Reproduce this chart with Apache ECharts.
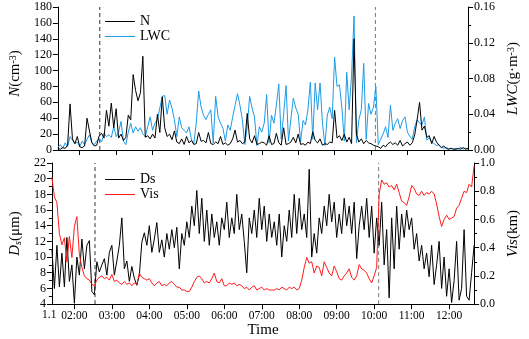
<!DOCTYPE html>
<html>
<head>
<meta charset="utf-8">
<script src="https://cdn.jsdelivr.net/npm/echarts@6.0.0/dist/echarts.min.js"></script>
<style>
  html, body { margin: 0; padding: 0; background: #fff; }
  #chart { width: 529px; height: 339px; }
</style>
</head>
<body>
<div id="chart"></div>
<script>
// sampling grid: one reading every 4 minutes from 01:24 to 12:40
const startHour = 1.4;
const stepMinutes = 4;
const hourTicks = [2, 3, 4, 5, 6, 7, 8, 9, 10, 11, 12];
const dashHours = [2.55, 10.12];
const nRange = [0, 180];
const lwcRange = [0, 0.16];
const dsRange = [4, 22];
const visRange = [0, 1.0];

// number concentration N (cm^-3)
const nVals = [
  2, 1, 3, 2, 6, 58, 14, 8, 17, 4,
  3, 5, 40, 24, 9, 5, 6, 18, 21, 15,
  50, 30, 59, 28, 52, 15, 20, 12, 16, 44,
  38, 95, 75, 62, 72, 118, 16, 18, 14, 20,
  15, 45, 22, 67, 28, 17, 20, 13, 24, 10,
  8, 14, 7, 17, 9, 12, 7, 8, 22, 11,
  12, 9, 22, 8, 7, 10, 8, 17, 7, 9,
  6, 8, 14, 25, 10, 12, 8, 10, 46, 14,
  9, 18, 7, 8, 10, 9, 6, 18, 7, 8,
  21, 9, 6, 28, 7, 8, 10, 16, 9, 20,
  7, 8, 6, 10, 8, 23, 12, 9, 14, 6,
  8, 7, 10, 9, 50, 15, 18, 12, 20, 10,
  16, 8, 140, 20, 10, 14, 8, 12, 9, 8,
  6, 5, 4, 2, 6, 4, 8, 10, 7, 9,
  6, 12, 5, 8, 10, 6, 9, 19, 38, 60,
  25, 30, 16, 18, 8, 17, 10, 6, 3, 5,
  2, 1, 2, 1, 1, 2, 1, 3, 1, 2
];

// liquid water content (g m^-3)
const lwcVals = [
  0.003, 0.006, 0.002, 0.008, 0.004, 0.015, 0.011, 0.007, 0.009, 0.004,
  0.010, 0.006, 0.012, 0.017, 0.008, 0.006, 0.010, 0.013, 0.009, 0.019,
  0.015, 0.017, 0.014, 0.026, 0.015, 0.020, 0.032, 0.010, 0.006, 0.020,
  0.030, 0.019, 0.026, 0.021, 0.025, 0.018, 0.015, 0.026, 0.037, 0.022,
  0.030, 0.034, 0.047, 0.060, 0.061, 0.040, 0.056, 0.047, 0.034, 0.015,
  0.037, 0.025, 0.022, 0.019, 0.026, 0.012, 0.007, 0.030, 0.066, 0.048,
  0.039, 0.034, 0.040, 0.045, 0.008, 0.060, 0.037, 0.030, 0.024, 0.010,
  0.028, 0.022, 0.037, 0.050, 0.063, 0.050, 0.034, 0.006, 0.026, 0.060,
  0.047, 0.037, 0.005, 0.026, 0.020, 0.030, 0.062, 0.008, 0.039, 0.030,
  0.050, 0.074, 0.012, 0.040, 0.072, 0.010, 0.035, 0.058, 0.047, 0.040,
  0.009, 0.033, 0.028, 0.045, 0.076, 0.012, 0.075, 0.045, 0.075, 0.030,
  0.005, 0.039, 0.048, 0.035, 0.104, 0.071, 0.073, 0.047, 0.010, 0.087,
  0.045, 0.084, 0.150, 0.008, 0.034, 0.045, 0.097, 0.012, 0.052, 0.040,
  0.048, 0.071, 0.006, 0.012, 0.018, 0.026, 0.014, 0.050, 0.022, 0.030,
  0.035, 0.024, 0.033, 0.037, 0.020, 0.015, 0.012, 0.026, 0.034, 0.030,
  0.028, 0.037, 0.011, 0.014, 0.009, 0.007, 0.005, 0.006, 0.003, 0.002,
  0.003, 0.001, 0.002, 0.001, 0.002, 0.001, 0.003, 0.001, 0.002, 0.001
];

// droplet diameter Ds (um)
const dsVals = [
  11, 6, 11.5, 6.2, 10.5, 6.2, 12.5, 6.9, 9, 4.1,
  10, 7.7, 12.3, 8.5, 11.5, 12.1, 5.6, 5.2, 9.4, 8.1,
  9, 9.8, 7.7, 10.6, 11.5, 7.7, 9.5, 11.5, 15, 8.5,
  9.5, 6.9, 8.8, 7.3, 6.4, 7.7, 11.9, 13.1, 11.5, 14,
  10.6, 12.3, 14.4, 10.6, 12.2, 10, 13, 11, 13.5, 11.2,
  13.8, 8.5, 13, 11.5, 14.5, 12.5, 16.5, 14, 18.5, 13,
  17.5, 12, 16, 11.5, 15.5, 12.5, 14.5, 11.5, 15, 13.5,
  17, 12.5, 15, 13, 18, 13.5, 15.5, 12, 8, 15,
  13, 16, 12.5, 17.5, 13.5, 16.5, 12, 15.5, 12.5, 14.5,
  11.5, 15.5, 10, 14, 12, 16, 12.5, 18, 13, 17.5,
  13.5, 15.5, 12.5, 21.2, 10, 13, 10.5, 15, 13, 16.5,
  14, 18, 14.5, 17, 12.5, 15.5, 13, 17.5, 14, 16.5,
  13, 17, 9.8, 14, 16.5, 13.5, 17.5, 12.5, 16.5, 10.5,
  15, 11.5, 17, 9, 13.5, 4.8, 15, 8.5, 16.5, 11,
  15.5, 12.5, 16, 13.5, 15, 11, 13, 9.5, 11.5, 8.5,
  10.5, 7.5, 11.5, 6.5, 9, 12, 6, 10, 5, 8.5,
  4.2, 7, 12, 4.5, 6, 13.5, 5, 4.5, 8, 11.5
];

// visibility (km)
const visVals = [
  0.9, 0.76, 0.72, 0.5, 0.42, 0.47, 0.3, 0.48, 0.33, 0.55,
  0.62, 0.35, 0.26, 0.2, 0.18, 0.17, 0.14, 0.13, 0.17, 0.19,
  0.2, 0.18, 0.19, 0.17, 0.21, 0.16, 0.17, 0.15, 0.14, 0.16,
  0.14, 0.15, 0.13, 0.15, 0.14, 0.22, 0.19, 0.18, 0.17, 0.18,
  0.15, 0.13, 0.15, 0.16, 0.13, 0.14, 0.13, 0.15, 0.16, 0.14,
  0.12, 0.12, 0.1, 0.1, 0.09, 0.09, 0.12, 0.16, 0.19, 0.2,
  0.18, 0.15, 0.16, 0.15, 0.18, 0.22, 0.16, 0.15, 0.18, 0.13,
  0.13, 0.15, 0.14, 0.15, 0.13, 0.14, 0.13, 0.11, 0.12, 0.1,
  0.12, 0.13, 0.1, 0.11, 0.12, 0.1, 0.11, 0.1, 0.1, 0.1,
  0.11, 0.1, 0.12, 0.11, 0.1, 0.12, 0.11, 0.12, 0.1, 0.11,
  0.17, 0.26, 0.33, 0.29, 0.3, 0.22, 0.27, 0.26, 0.2, 0.3,
  0.26, 0.22, 0.2, 0.27, 0.23, 0.18, 0.17, 0.2, 0.22, 0.25,
  0.19, 0.17, 0.2, 0.28, 0.25, 0.24, 0.22, 0.18, 0.15, 0.2,
  0.26, 0.78, 0.88, 0.85, 0.86, 0.83, 0.84, 0.81, 0.85, 0.79,
  0.73, 0.72, 0.7, 0.76, 0.84, 0.82, 0.78, 0.77, 0.8, 0.77,
  0.79, 0.78, 0.8, 0.78, 0.71, 0.62, 0.55, 0.6, 0.63, 0.6,
  0.61, 0.62, 0.68, 0.7, 0.75, 0.8, 0.79, 0.85, 0.83, 0.98
];

const FONT = "Liberation Serif";
const times = nVals.map((_, i) => startHour + (i * stepMinutes) / 60);
const toPairs = (vals) => vals.map((v, i) => [times[i], v]);
const pad2 = (h) => (h < 10 ? "0" + h : "" + h) + ":00";

const chart = echarts.init(document.getElementById("chart"), null, { renderer: "canvas" });

function makeXAxis(gridIndex, showLabels) {
  return {
    type: "value",
    gridIndex,
    min: startHour,
    max: startHour + ((nVals.length - 1) * stepMinutes) / 60,
    name: showLabels ? "Time" : "",
    nameLocation: "middle",
    nameGap: 18,
    nameTextStyle: { fontFamily: FONT, fontSize: 15, color: "#000" },
    axisLine: { show: true, onZero: false, lineStyle: { color: "#000", width: 1 } },
    axisTick: { show: true, customValues: hourTicks, length: 5, inside: false, lineStyle: { color: "#000" } },
    axisLabel: {
      show: showLabels,
      customValues: hourTicks,
      formatter: (v) => pad2(Math.round(v)),
      fontFamily: FONT,
      fontSize: 11.5,
      color: "#000",
      margin: 6,
    },
    splitLine: { show: false },
  };
}

function makeYAxis(gridIndex, position, range, interval, digits, name, nameGap, minor, namePad) {
  return {
    type: "value",
    gridIndex,
    position,
    min: range[0],
    max: range[1],
    interval,
    name,
    nameLocation: "middle",
    nameRotate: 90,
    nameGap,
    nameTextStyle: {
      fontFamily: FONT,
      fontSize: 15,
      color: "#000",
      padding: namePad,
      rich: {
        i: { fontFamily: FONT, fontSize: 15, fontStyle: "italic", color: "#000" },
        t: { fontFamily: FONT, fontSize: 15, color: "#000" },
        sup: { fontFamily: FONT, fontSize: 10, color: "#000", verticalAlign: "top", lineHeight: 10 },
        sub: { fontFamily: FONT, fontSize: 10, fontStyle: "italic", color: "#000", verticalAlign: "bottom", lineHeight: 10 },
      },
    },
    axisLine: { show: true, onZero: false, lineStyle: { color: "#000", width: 1 } },
    axisTick: { show: true, length: 5, inside: false, lineStyle: { color: "#000" } },
    minorTick: { show: minor, splitNumber: 2, length: 3, lineStyle: { color: "#000" } },
    axisLabel: {
      fontFamily: FONT,
      fontSize: 12,
      color: "#000",
      margin: 6,
      formatter: (v) => v.toFixed(digits),
    },
    splitLine: { show: false },
    minorSplitLine: { show: false },
  };
}

// vertical dashed separators drawn as two-point series on each panel
function dashSeries(xAxisIndex, yAxisIndex, range) {
  const colors = ["#333", "#777"];
  return dashHours.map((h, k) => ({
    name: "cut" + xAxisIndex + k,
    type: "line",
    xAxisIndex,
    yAxisIndex,
    silent: true,
    symbol: "none",
    data: [[h, range[0]], [h, range[1]]],
    lineStyle: { color: colors[k], width: 1, type: [4, 3] },
    z: 1,
  }));
}

const legendBase = {
  orient: "vertical",
  left: 100,
  icon: "rect",
  itemWidth: 30,
  itemHeight: 1,
  itemGap: 0,
  textStyle: { fontFamily: FONT, fontSize: 14, lineHeight: 15, color: "#000" },
};

chart.setOption({
  animation: false,
  backgroundColor: "#fff",
  grid: [
    { left: 45, right: 46, top: 7, height: 143 },
    { left: 45, right: 46, top: 163, height: 143 },
  ],
  legend: [
    Object.assign({}, legendBase, { top: 9, data: ["N", "LWC"] }),
    Object.assign({}, legendBase, { top: 167, data: ["Ds", "Vis"] }),
  ],
  xAxis: [makeXAxis(0, false), makeXAxis(1, true)],
  yAxis: [
    makeYAxis(0, "left", nRange, 20, 0, "{i|N}{t|(cm}{sup|-3}{t|)}", 14, false, [0, 0, 0, 10]),
    makeYAxis(0, "right", lwcRange, 0.04, 2, "{i|LWC}{t|(g·m}{sup|-3}{t|)}", 30, true, 0),
    makeYAxis(1, "left", dsRange, 2, 0, "{i|D}{sub|s}{t|(μm)}", 25, true, 0),
    makeYAxis(1, "right", visRange, 0.2, 1, "{i|Vis}{t|(km)}", 29, true, 0),
  ],
  graphic: [
    {
      type: "text",
      left: 42,
      top: 309,
      style: { text: "1.1", font: "11.5px 'Liberation Serif'", fill: "#000" },
    },
  ],
  series: [
    ...dashSeries(0, 0, nRange),
    ...dashSeries(1, 2, dsRange),
    {
      name: "LWC",
      type: "line",
      xAxisIndex: 0,
      yAxisIndex: 1,
      data: toPairs(lwcVals),
      showSymbol: false,
      symbol: "none",
      lineStyle: { color: "#1e9be6", width: 1 },
      itemStyle: { color: "#1e9be6" },
    },
    {
      name: "N",
      type: "line",
      xAxisIndex: 0,
      yAxisIndex: 0,
      data: toPairs(nVals),
      showSymbol: false,
      symbol: "none",
      lineStyle: { color: "#000", width: 1 },
      itemStyle: { color: "#000" },
    },
    {
      name: "Ds",
      type: "line",
      xAxisIndex: 1,
      yAxisIndex: 2,
      data: toPairs(dsVals),
      showSymbol: false,
      symbol: "none",
      lineStyle: { color: "#000", width: 1 },
      itemStyle: { color: "#000" },
    },
    {
      name: "Vis",
      type: "line",
      xAxisIndex: 1,
      yAxisIndex: 3,
      data: toPairs(visVals),
      showSymbol: false,
      symbol: "none",
      lineStyle: { color: "#ff1a1a", width: 1 },
      itemStyle: { color: "#ff1a1a" },
    },
  ],
});
</script>
</body>
</html>
